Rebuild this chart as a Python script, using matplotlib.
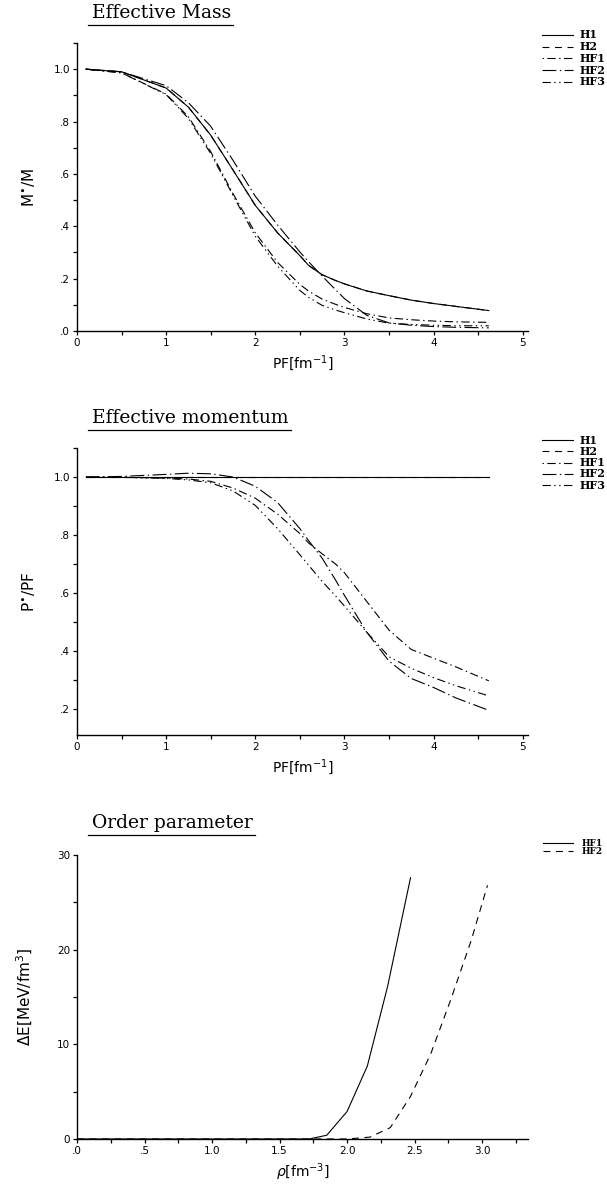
import matplotlib
matplotlib.use("Agg")
import matplotlib.pyplot as plt
from matplotlib.lines import Line2D
from matplotlib.ticker import MultipleLocator, FuncFormatter

plt.rcParams["lines.scale_dashes"] = False

W, H = 607, 1196

# Fermi momentum grid (fm^-1)
pf = [0.1, 0.5, 1.0, 1.25, 1.5, 1.75, 2.0, 2.25, 2.5, 2.6, 2.75, 2.9, 3.0, 3.25, 3.5, 3.75, 4.0, 4.25, 4.62]

# effective mass M*/M
mass_h1 = [1.0, 0.99, 0.928, 0.855, 0.748, 0.615, 0.48, 0.375, 0.288, 0.25, 0.215, 0.193, 0.18, 0.153, 0.135, 0.118, 0.105, 0.094, 0.078]
mass_h2 = [1.0, 0.99, 0.928, 0.855, 0.748, 0.615, 0.48, 0.375, 0.288, 0.25, 0.215, 0.193, 0.18, 0.153, 0.135, 0.118, 0.105, 0.094, 0.078]
mass_hf1 = [1.0, 0.986, 0.905, 0.818, 0.685, 0.525, 0.375, 0.262, 0.178, 0.152, 0.122, 0.102, 0.09, 0.066, 0.05, 0.043, 0.038, 0.035, 0.033]
mass_hf2 = [1.0, 0.99, 0.937, 0.872, 0.782, 0.652, 0.515, 0.405, 0.302, 0.264, 0.21, 0.158, 0.124, 0.06, 0.031, 0.022, 0.017, 0.014, 0.012]
mass_hf3 = [1.0, 0.986, 0.903, 0.812, 0.678, 0.518, 0.362, 0.248, 0.155, 0.128, 0.098, 0.08, 0.07, 0.046, 0.03, 0.025, 0.022, 0.02, 0.02]

# effective momentum P*/PF
mom_h1 = [1.0] * 19
mom_h2 = [1.0] * 19
mom_hf1 = [1.0, 0.999, 0.996, 0.993, 0.985, 0.962, 0.927, 0.872, 0.805, 0.772, 0.735, 0.7, 0.67, 0.571, 0.472, 0.405, 0.375, 0.345, 0.297]
mom_hf2 = [1.0, 1.002, 1.009, 1.013, 1.011, 1.0, 0.968, 0.912, 0.822, 0.78, 0.72, 0.645, 0.592, 0.465, 0.365, 0.305, 0.274, 0.238, 0.195]
mom_hf3 = [1.0, 0.999, 0.995, 0.99, 0.98, 0.952, 0.902, 0.822, 0.732, 0.695, 0.64, 0.59, 0.555, 0.465, 0.38, 0.34, 0.308, 0.28, 0.245]

# order parameter vs density
rho_hf1 = [0.0, 0.5, 1.0, 1.5, 1.72, 1.85, 2.0, 2.15, 2.3, 2.47]
gap_hf1 = [0.0, 0.0, 0.0, 0.0, 0.0, 0.4, 2.9, 7.7, 16.1, 27.6]
rho_hf2 = [0.0, 0.5, 1.0, 1.5, 2.0, 2.17, 2.32, 2.47, 2.62, 2.77, 2.92, 3.04]
gap_hf2 = [0.0, 0.0, 0.0, 0.0, 0.0, 0.2, 1.2, 4.5, 9.0, 14.8, 21.0, 26.8]

styles = {
    "H1": "-",
    "H2": (0, (5, 4)),
    "HF1": (0, (1, 2.5, 6, 2.5)),
    "HF2": (0, (10, 2.5, 1, 2.5)),
    "HF3": (0, (6, 2.5, 1, 2.5, 1, 2.5)),
}
LW = 0.8

fig = plt.figure(figsize=(W / 100, H / 100), dpi=100)


def fx(px):
    return px / W


def fy(py):
    return 1 - py / H


def make_axes(top, bottom, left=77, right=528):
    ax = fig.add_axes([fx(left), fy(bottom), fx(right - left), (bottom - top) / H])
    for s in ("top", "right"):
        ax.spines[s].set_visible(False)
    for s in ("left", "bottom"):
        ax.spines[s].set_linewidth(1.0)
    ax.tick_params(which="both", direction="out", length=3, width=0.9,
                   labelsize=7.5, pad=2)
    return ax


def dec(v, pos):
    s = f"{v:.1f}"
    return s[1:] if s.startswith("0") else s


def title(text, y):
    # underlined heading, left edge lined up with the other panels
    t = fig.text(fx(92), fy(y), text, ha="left", va="center",
                 family="DejaVu Serif", fontsize=13.5)
    fig.canvas.draw()
    bb = t.get_window_extent()
    yl = bb.y0 - 3
    fig.add_artist(Line2D([fx(88), (bb.x1 + 2) / W], [yl / H, yl / H],
                          transform=fig.transFigure, color="black", lw=0.9))


def legend(names, y0, step, size):
    for i, n in enumerate(names):
        y = fy(y0 + i * step)
        fig.add_artist(Line2D([fx(542), fx(573)], [y, y], transform=fig.transFigure,
                              color="black", lw=LW, linestyle=styles[n]))
        fig.text(fx(580), y, n, ha="left", va="center", family="DejaVu Serif",
                 fontweight="bold", fontsize=size)


names = ["H1", "H2", "HF1", "HF2", "HF3"]

# --- effective mass ---
ax1 = make_axes(43, 331)
for n, vals in zip(names, [mass_h1, mass_h2, mass_hf1, mass_hf2, mass_hf3]):
    ax1.plot(pf, vals, color="black", lw=LW, linestyle=styles[n])
ax1.set_xlim(0, 5.06)
ax1.set_ylim(0, 1.1)
ax1.xaxis.set_major_locator(MultipleLocator(1))
ax1.xaxis.set_minor_locator(MultipleLocator(0.5))
ax1.yaxis.set_major_locator(MultipleLocator(0.2))
ax1.yaxis.set_minor_locator(MultipleLocator(0.1))
ax1.yaxis.set_major_formatter(FuncFormatter(dec))
ax1.set_xlabel(r"PF[fm$^{-1}$]", fontsize=10, labelpad=4)
ax1.set_ylabel(r"M$^{\bullet}$/M", fontsize=11, labelpad=12)
title("Effective Mass", 13)
legend(names, 35, 11.7, 8)

# --- effective momentum ---
ax2 = make_axes(448, 735)
for n, vals in zip(names, [mom_h1, mom_h2, mom_hf1, mom_hf2, mom_hf3]):
    ax2.plot(pf, vals, color="black", lw=LW, linestyle=styles[n])
ax2.set_xlim(0, 5.06)
ax2.set_ylim(0.11, 1.1)
ax2.xaxis.set_major_locator(MultipleLocator(1))
ax2.xaxis.set_minor_locator(MultipleLocator(0.5))
ax2.yaxis.set_major_locator(MultipleLocator(0.2))
ax2.yaxis.set_minor_locator(MultipleLocator(0.1))
ax2.yaxis.set_major_formatter(FuncFormatter(dec))
ax2.set_xlabel(r"PF[fm$^{-1}$]", fontsize=10, labelpad=4)
ax2.set_ylabel(r"P$^{\bullet}$/PF", fontsize=11, labelpad=12)
title("Effective momentum", 418)
legend(names, 440, 11.3, 8)

# --- order parameter ---
ax3 = make_axes(855, 1139)
ax3.plot(rho_hf1, gap_hf1, color="black", lw=LW, linestyle=styles["H1"])
ax3.plot(rho_hf2, gap_hf2, color="black", lw=LW, linestyle=styles["H2"])
ax3.set_xlim(0, 3.34)
ax3.set_ylim(0, 30)
ax3.xaxis.set_major_locator(MultipleLocator(0.5))
ax3.xaxis.set_minor_locator(MultipleLocator(0.25))
ax3.xaxis.set_major_formatter(FuncFormatter(dec))
ax3.yaxis.set_major_locator(MultipleLocator(10))
ax3.yaxis.set_minor_locator(MultipleLocator(5))
ax3.set_xlabel(r"$\rho$[fm$^{-3}$]", fontsize=10, labelpad=4)
ax3.set_ylabel(r"$\Delta$E[MeV/fm$^{3}$]", fontsize=11, labelpad=16)
title("Order parameter", 823)
for i, n in enumerate(["HF1", "HF2"]):
    y = fy(843 + i * 8)
    fig.add_artist(Line2D([fx(543), fx(573)], [y, y], transform=fig.transFigure,
                          color="black", lw=LW, linestyle=styles["H1" if i == 0 else "H2"]))
    fig.text(fx(582), y, n, ha="left", va="center", family="DejaVu Serif",
             fontweight="bold", fontsize=6.5)

fig.savefig("out.png", dpi=100)
